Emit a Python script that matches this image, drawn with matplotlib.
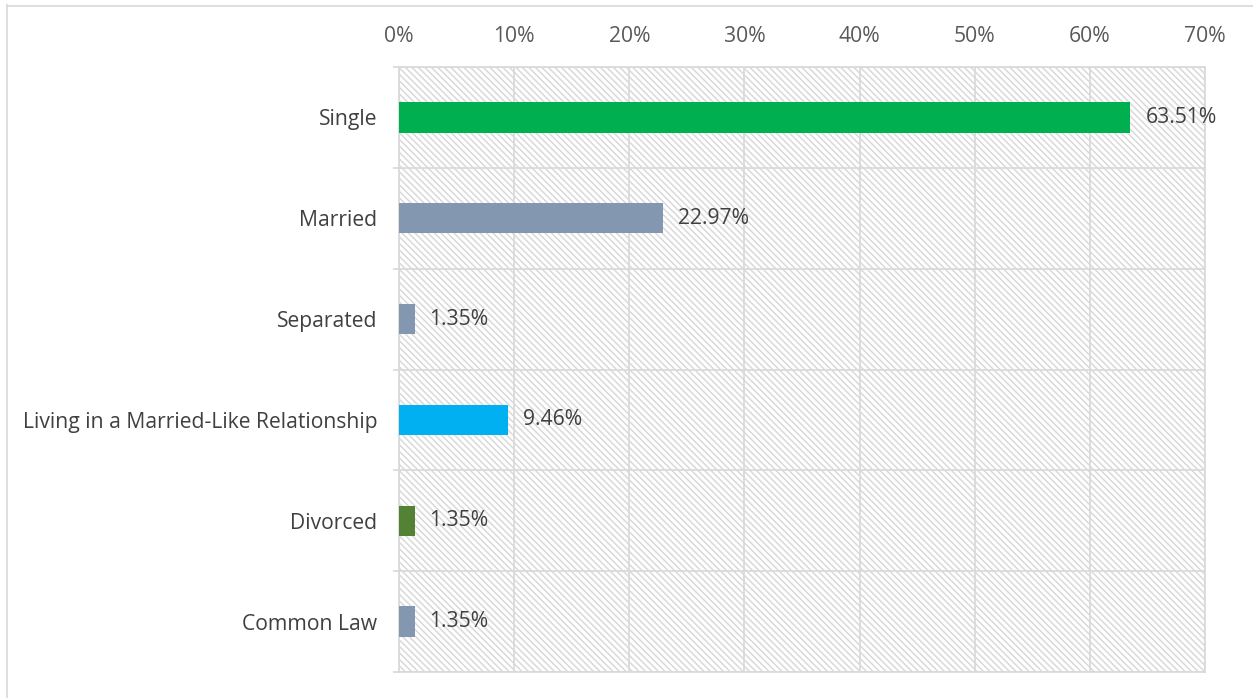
import matplotlib
matplotlib.use("Agg")
import matplotlib.pyplot as plt
from matplotlib.lines import Line2D
from matplotlib.ticker import FuncFormatter, FixedLocator

categories = ["Single", "Married", "Separated",
              "Living in a Married-Like Relationship", "Divorced", "Common Law"]
values = [63.51, 22.97, 1.35, 9.46, 1.35, 1.35]
colors = ["#00B050", "#8497B0", "#8497B0", "#00B0F0", "#548235", "#8497B0"]
x_ticks = [0, 10, 20, 30, 40, 50, 60, 70]

DPI = 78
FS = 19.5
plt.rcParams["font.family"] = ["Open Sans", "DejaVu Sans"]
plt.rcParams["hatch.color"] = "#d0d0d0"
plt.rcParams["hatch.linewidth"] = 1.4

fig = plt.figure(figsize=(1253 / DPI, 698 / DPI), dpi=DPI)
ax = fig.add_axes([399 / 1253, 1 - 672 / 698, (1205 - 399) / 1253, (672 - 67) / 698])

grid_c = "#d9d9d9"
ax.set_facecolor("white")
ax.patch.set_hatch("\\\\\\\\")
ax.patch.set_edgecolor(grid_c)
ax.patch.set_linewidth(0)

y = list(range(len(categories)))
ax.barh(y, values, height=0.3, color=colors, zorder=3)

for yi, v in zip(y, values):
    ax.annotate(f"{v:.2f}%", xy=(v, yi), xytext=(15, 0), textcoords="offset pixels",
                va="center", ha="left", fontsize=FS, color="#404040", zorder=4)

ax.set_xlim(0, 70)
ax.set_ylim(len(categories) - 0.5, -0.5)
ax.set_xticks(x_ticks)
ax.xaxis.set_major_formatter(FuncFormatter(lambda v, p: f"{v:.0f}%"))
ax.xaxis.tick_top()
ax.tick_params(axis="x", which="major", length=0, pad=18, labelsize=FS, labelcolor="#595959")

ax.set_yticks(y)
ax.set_yticklabels(categories)
ax.yaxis.set_minor_locator(FixedLocator([i + 0.5 for i in range(-1, len(categories))]))
ax.tick_params(axis="y", which="major", length=0, pad=20, labelsize=FS, labelcolor="#404040")
ax.tick_params(axis="y", which="minor", length=6, width=1.6, color=grid_c, direction="out")

ax.grid(axis="x", which="major", color=grid_c, linewidth=1.6, zorder=1)
ax.grid(axis="y", which="minor", color=grid_c, linewidth=1.6, zorder=1)
ax.grid(axis="y", which="major", visible=False)
ax.set_axisbelow(True)
for s in ax.spines.values():
    s.set_color(grid_c)
    s.set_linewidth(1.6)

# outer chart border (left and top visible)
fig.add_artist(Line2D([7 / 1253, 7 / 1253], [0, 1 - 5 / 698], color=grid_c, linewidth=1.6,
                      transform=fig.transFigure))
fig.add_artist(Line2D([7 / 1253, 1], [1 - 6 / 698, 1 - 6 / 698], color=grid_c, linewidth=1.6,
                      transform=fig.transFigure))

fig.savefig("out.png", dpi=DPI, facecolor="white")
